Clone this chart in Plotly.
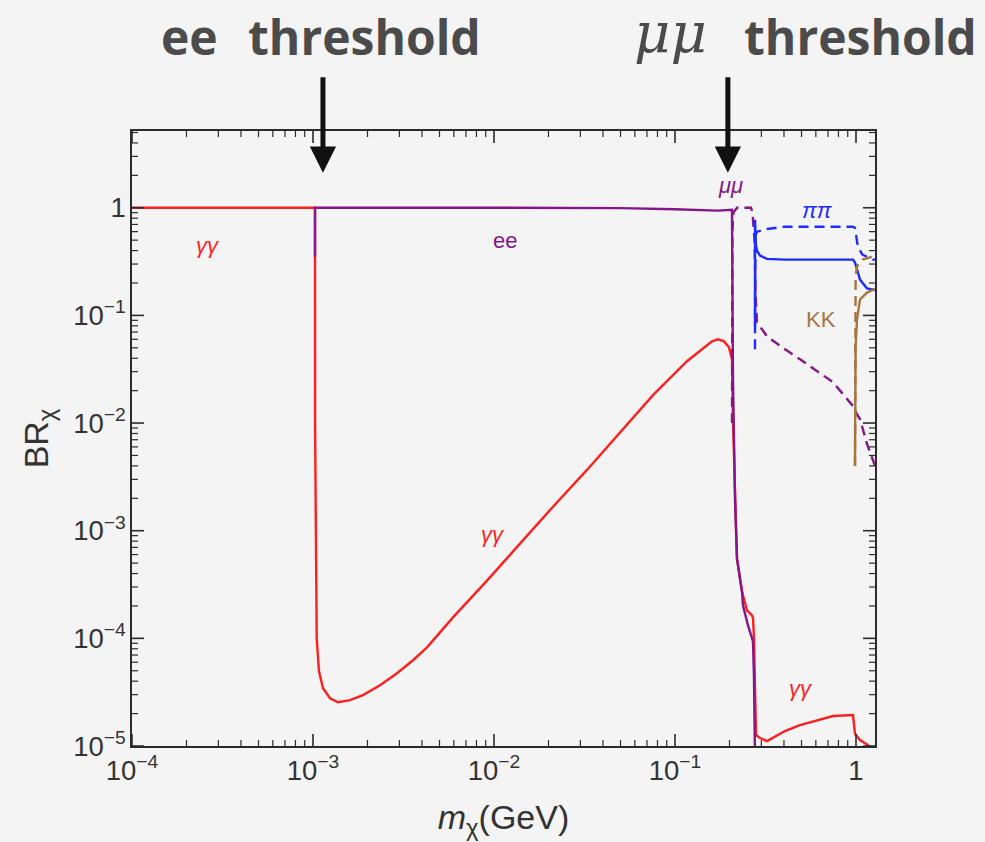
import numpy as np
import plotly.graph_objects as go

# ---------------- data (mass in GeV, branching ratio) ----------------
gg_m = [1e-4, 1.0258e-3, 1.027e-3, 1.0482e-3, 1.0793e-3, 1.1357e-3, 1.2417e-3, 1.3742e-3,
        1.6013e-3, 1.8891e-3, 2.3455e-3, 2.9113e-3, 3.5684e-3, 4.2642e-3, 5.9357e-3,
        9.1484e-3, 1.3918e-2, 2.1183e-2, 3.2638e-2, 4.9671e-2, 7.5558e-2, 0.11651, 0.14282,
        0.16014, 0.17281, 0.18651, 0.19876, 0.20649, 0.20913, 0.21452, 0.22004, 0.23451,
        0.24990, 0.26631, 0.26972, 0.27317, 0.27667, 0.28022, 0.29484, 0.32235, 0.40523,
        0.49040, 0.74619, 0.96256, 0.98737, 1.0522, 1.1650, 1.2736]
gg_br = [1.0, 1.0, 1e-2, 1e-4, 4.95e-5, 3.44e-5, 2.78e-5, 2.55e-5,
         2.67e-5, 2.97e-5, 3.67e-5, 4.74e-5, 6.26e-5, 8.25e-5, 1.565e-4,
         3.44e-4, 7.58e-4, 1.67e-3, 3.67e-3, 8.25e-3, 1.816e-2, 0.0375, 0.0495,
         0.0574, 0.0599, 0.0574, 0.0505, 0.0391, 0.0109, 1.98e-3, 5.5e-4, 2.72e-4,
         1.816e-4, 1.633e-4, 1.55e-4, 1.0e-4, 2.78e-5, 1.264e-5, 1.186e-5, 1.112e-5, 1.377e-5,
         1.565e-5, 1.9e-5, 1.94e-5, 1.3e-5, 1.136e-5, 1.02e-5, 8e-6]

ee_m = [1.0258e-3, 1.0259e-3, 1.0e-2, 5.0e-2, 0.10, 0.15, 0.17281, 0.20649, 0.20728,
        0.20913, 0.21452, 0.22004, 0.23451, 0.23751, 0.25310, 0.26972, 0.27317, 0.27667]
ee_br = [0.35, 1.0, 0.9997, 0.992, 0.968, 0.951, 0.940, 0.958, 0.1406,
         0.02555, 1.98e-3, 5.5e-4, 2.72e-4, 2.02e-4, 1.319e-4, 9.38e-5, 4.3e-5, 8e-6]

mm_m = [0.2066, 0.2075, 0.2100, 0.2200, 0.2631, 0.2680, 0.2750, 0.2790, 0.2838, 0.3224,
        0.4052, 0.4904, 0.7462, 0.9626, 0.9874, 1.0522, 1.1503, 1.2415, 1.2736]
mm_br = [0.01, 0.6, 0.9, 1.0, 1.0, 0.9, 0.5, 0.15, 0.0861, 0.0639,
         0.0484, 0.0391, 0.02396, 0.01437, 0.013, 0.0109, 6.4e-3, 4.355e-3, 4.0e-3]

pi_a_m = [0.2766, 0.2770, 0.2780, 0.2802, 0.2838, 0.2948, 0.3224, 0.4052, 0.9626, 0.9874,
          1.0240, 1.0522, 1.1503, 1.2415, 1.2736]
pi_a_br = [0.0791, 0.774, 0.60, 0.45, 0.40, 0.36, 0.335, 0.33, 0.33, 0.31,
           0.25, 0.215, 0.178, 0.174, 0.172]

pi_b_m = [0.2766, 0.2780, 0.2838, 0.3224, 0.4052, 0.9626, 0.9874, 1.0240, 1.0850, 1.2415, 1.2736]
pi_b_br = [0.0484, 0.55, 0.60, 0.635, 0.667, 0.667, 0.65, 0.435, 0.367, 0.330, 0.33]

kk_a_m = [0.9874, 0.9950, 1.013, 1.0522, 1.1503, 1.2415, 1.2736]
kk_a_br = [4.0e-3, 0.05, 0.0918, 0.1406, 0.163, 0.174, 0.176]

kk_b_m = [0.9874, 0.9900, 0.9950, 1.013, 1.0850, 1.2415, 1.2736]
kk_b_br = [4.0e-3, 0.20, 0.23, 0.284, 0.33, 0.352, 0.355]

label_text = ["<i>γγ</i>", "ee", "<i>γγ</i>", "<i>μμ</i>", "<i>ππ</i>", "KK", "<i>γγ</i>"]
label_m = [2.63e-4, 1.151e-2, 9.86e-3, 0.2037, 0.6166, 0.6412, 0.4966]
label_br = [0.445, 0.494, 9.18e-4, 1.60, 0.938, 0.0918, 3.44e-5]

arrow_m = [1.135e-3, 0.196]   # where the threshold arrows point

# axis ranges (log10) and tick decades
XR = [-4, 0.105]
YR = [-5, 0.713]
x_decades = [1e-4, 1e-3, 1e-2, 1e-1, 1.0]
y_decades = [1e-5, 1e-4, 1e-3, 1e-2, 1e-1, 1.0]
minor_mult = [2, 3, 4, 5, 6, 7, 8, 9]

# ---------------- styling ----------------
RED = "#ff1f1f"
PURPLE = "#84168a"
BLUE = "#1f2bff"
BROWN = "#a5773f"
label_color = [RED, PURPLE, RED, PURPLE, BLUE, BROWN, RED]
BG = "#f4f4f4"
AX = "#2b2b2b"
DASH = "10px,6px"
SANS = "Liberation Sans, Arial, sans-serif"

fig = go.Figure()
series = [
    (gg_m, gg_br, RED, "solid"),
    (ee_m, ee_br, PURPLE, "solid"),
    (mm_m, mm_br, PURPLE, DASH),
    (pi_b_m, pi_b_br, BLUE, DASH),
    (pi_a_m, pi_a_br, BLUE, "solid"),
    (kk_b_m, kk_b_br, BROWN, DASH),
    (kk_a_m, kk_a_br, BROWN, "solid"),
]
for m, br, c, d in series:
    fig.add_trace(go.Scatter(x=m, y=br, mode="lines",
                             line=dict(color=c, width=2.4, dash=d),
                             showlegend=False, hoverinfo="skip"))

W, H = 985, 842
ML, MR, MT, MB = 132, 110, 131, 94
PW, PH = W - ML - MR, H - MT - MB

fig.update_layout(width=W, height=H, autosize=False,
                  margin=dict(l=ML, r=MR, t=MT, b=MB),
                  paper_bgcolor=BG, plot_bgcolor=BG)
for upd, rng, ttl, sto in [(fig.update_xaxes, XR, "<i>m</i><sub>χ</sub>(GeV)", 20),
                           (fig.update_yaxes, YR, "BR<sub>χ</sub>", 14)]:
    upd(type="log", range=rng, tickmode="linear", tick0=0, dtick=1,
        exponentformat="power", showgrid=False, zeroline=False,
        showline=True, linecolor=AX, linewidth=1.6, mirror=True, ticks="",
        tickfont=dict(family=SANS, size=22, color="#333333"),
        title=dict(text=ttl, standoff=sto, font=dict(family=SANS, size=34, color="#333333")))

# tick marks (inside, on all four sides) drawn as shapes; shapes take raw data values
def in_range(v, r):
    lv = np.log10(v)
    return r[0] - 1e-9 <= lv <= r[1] + 1e-9

def add_ticks(vals, axis, length_px, width):
    for v in vals:
        if axis == "x":
            if not in_range(v, XR):
                continue
            L = length_px / PH
            for y0, y1 in [(0, L), (1, 1 - L)]:
                fig.add_shape(type="line", xref="x", yref="paper", x0=v, x1=v, y0=y0, y1=y1,
                              line=dict(color=AX, width=width), layer="above")
        else:
            if not in_range(v, YR):
                continue
            L = length_px / PW
            for x0, x1 in [(0, L), (1, 1 - L)]:
                fig.add_shape(type="line", xref="paper", yref="y", x0=x0, x1=x1, y0=v, y1=v,
                              line=dict(color=AX, width=width), layer="above")

add_ticks(x_decades, "x", 12, 1.6)
add_ticks(y_decades, "y", 12, 1.6)
add_ticks([k * d for d in x_decades for k in minor_mult], "x", 6, 1.2)
add_ticks([k * d for d in y_decades for k in minor_mult], "y", 6, 1.2)

for t, m, b, c in zip(label_text, label_m, label_br, label_color):
    fig.add_annotation(x=np.log10(m), y=np.log10(b), text=t, showarrow=False,
                       font=dict(family=SANS, size=22, color=c),
                       xanchor="center", yanchor="middle")

# threshold arrows
for m in arrow_m:
    fig.add_annotation(x=np.log10(m), y=0.932, xref="x", yref="paper", text="",
                       showarrow=True, arrowhead=2, arrowsize=1.05, arrowwidth=5,
                       arrowcolor="#111111", ax=0, ay=-97)

TOPFONT = dict(family="Open Sans, Lato, sans-serif", size=48, color="#4b4b4b")
fig.add_annotation(x=0.077, y=1.153, xref="paper", yref="paper", text="<b>ee</b>",
                   showarrow=False, font=TOPFONT, xanchor="center", yanchor="middle")
fig.add_annotation(x=0.3135, y=1.153, xref="paper", yref="paper", text="<b>threshold</b>",
                   showarrow=False, font=TOPFONT, xanchor="center", yanchor="middle")
fig.add_annotation(x=0.7254, y=1.104, xref="paper", yref="paper", text="<i>μμ</i>",
                   showarrow=False,
                   font=dict(family="DejaVu Serif, Liberation Serif, serif", size=56, color="#4b4b4b"),
                   xanchor="center", yanchor="bottom")
fig.add_annotation(x=0.981, y=1.153, xref="paper", yref="paper", text="<b>threshold</b>",
                   showarrow=False, font=TOPFONT, xanchor="center", yanchor="middle")

fig.write_html("out.html")
